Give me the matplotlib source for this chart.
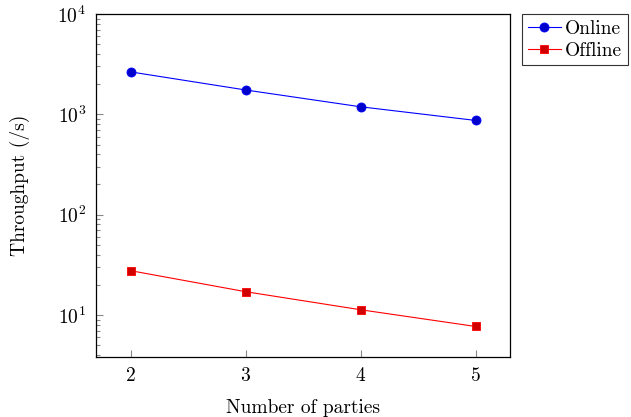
import matplotlib
matplotlib.use("Agg")
import matplotlib.pyplot as plt

plt.rcParams['font.family'] = 'cmr10'
plt.rcParams['mathtext.fontset'] = 'cm'
plt.rcParams['axes.formatter.use_mathtext'] = True

# data
parties = [2, 3, 4, 5]
online = [2650, 1750, 1190, 870]
offline = [27.7, 17.1, 11.3, 7.7]


def main():
    fig = plt.figure(figsize=(6.31, 4.17), dpi=100)
    ax = fig.add_axes([96/631, 1 - 357/417, (510-96)/631, (357-14)/417])

    l1, = ax.plot(parties, online, color='blue', lw=0.8, marker='o', markersize=6.5,
                  markerfacecolor='#0000cc', markeredgecolor='blue', markeredgewidth=0.6, label='Online')
    l2, = ax.plot(parties, offline, color='red', lw=0.8, marker='s', markersize=6,
                  markerfacecolor='#d00000', markeredgecolor='red', markeredgewidth=0.6, label='Offline')

    ax.set_yscale('log')
    ax.set_xlim(1.7, 5.3)
    ax.set_ylim(3.82, 1e4)
    ax.set_xticks(parties)
    ax.set_xticklabels([str(p) for p in parties])

    fs = 14
    ax.tick_params(axis='both', which='both', direction='in', top=False, right=False,
                   color='#888888', labelsize=fs)
    ax.tick_params(axis='both', which='major', length=5, width=0.8, pad=7)
    ax.tick_params(axis='y', which='minor', length=3, width=0.8)
    for s in ax.spines.values():
        s.set_linewidth(0.9)

    ax.set_xlabel('Number of parties', fontsize=fs, labelpad=10)
    ax.set_ylabel('Throughput (/s)', fontsize=fs, labelpad=20)

    leg = fig.legend(handles=[l1, l2], loc='upper left', bbox_to_anchor=(522/631, 1 - 14/417),
                     fontsize=fs, frameon=True, fancybox=False, borderaxespad=0,
                     handlelength=1.7, handletextpad=0.2, borderpad=0.3, labelspacing=0.2)
    leg.get_frame().set_edgecolor('black')
    leg.get_frame().set_linewidth(0.8)

    fig.savefig('out.png', dpi=100)


if __name__ == '__main__':
    main()
